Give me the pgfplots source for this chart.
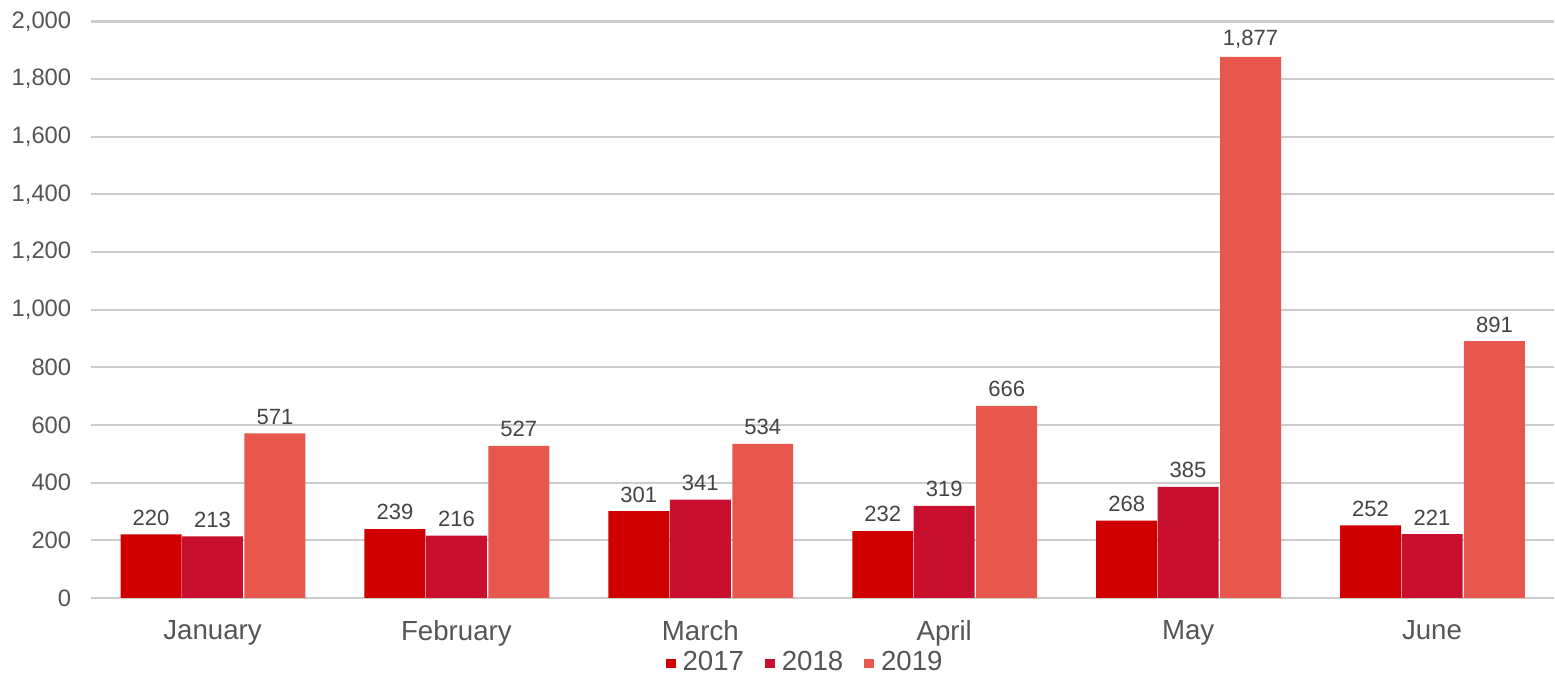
\documentclass[border=0pt]{standalone}
\usepackage{pgfplots}
\pgfplotsset{compat=1.18}
\usepackage{fontspec}
\setmainfont{Liberation Sans}
\definecolor{c17}{HTML}{D00000}
\definecolor{c18}{HTML}{C8102E}
\definecolor{c19}{HTML}{E8574E}
\definecolor{gridc}{HTML}{CCCCCC}
\definecolor{tickc}{HTML}{555555}
\definecolor{lblc}{HTML}{444444}
\begin{document}
\begin{tikzpicture}
\begin{axis}[
  name=ax,
  scale only axis,
  width=14.7cm, height=5.79cm,
  xmin=-0.5, xmax=5.5,
  ymin=0, ymax=2000,
  ytick={0,200,...,2000},
  xtick={0,1,2,3,4,5},
  xticklabels={January,February,March,April,May,June},
  ymajorgrids,
  grid style={draw=gridc, line width=0.6pt},
  axis line style={draw=none},
  major tick length=0pt,
  /pgf/number format/.cd, 1000 sep={,}, assume math mode=true,
  /pgfplots/.cd,
  yticklabel style={font=\fontsize{6.8}{8}\selectfont, text=tickc, xshift=-2pt},
  xticklabel style={font=\fontsize{7.9}{9}\selectfont, text=tickc, yshift=-3pt},
  ybar,
  bar width=0.25,
  nodes near coords,
  every node near coord/.append style={font=\fontsize{6.3}{7}\selectfont, text=lblc, yshift=-1pt},
  legend style={at={(0.49,-0.114)}, anchor=center, draw=none, fill=none,
    legend columns=3, font=\fontsize{7.9}{9}\selectfont, text=tickc,
    /tikz/every even column/.append style={column sep=4pt}},
  legend image code/.code={\fill[#1] (0pt,-1.4pt) rectangle (2.8pt,1.4pt);},
]
\addplot[fill=c17, draw=none, bar shift=-0.252] coordinates {(0,220) (1,239) (2,301) (3,232) (4,268) (5,252)};
\addplot[fill=c18, draw=none, bar shift=0] coordinates {(0,213) (1,216) (2,341) (3,319) (4,385) (5,221)};
\addplot[fill=c19, draw=none, bar shift=0.256] coordinates {(0,571) (1,527) (2,534) (3,666) (4,1877) (5,891)};
\legend{2017,2018,2019}
\end{axis}
\useasboundingbox ([xshift=-0.85cm, yshift=-0.90cm]ax.south west) rectangle ([yshift=0.19cm]ax.north east);
\end{tikzpicture}
\end{document}
